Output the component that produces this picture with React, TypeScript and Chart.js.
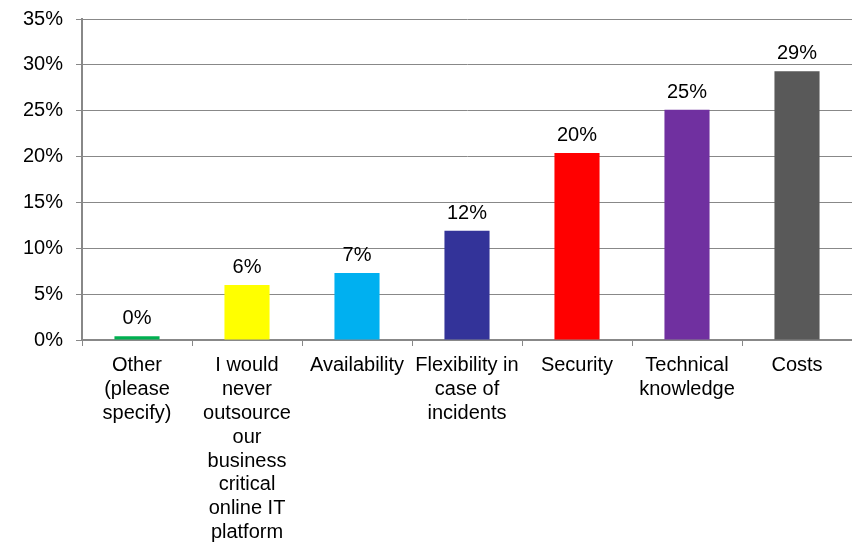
import React, { useEffect, useRef } from "react";
import { Chart, registerables } from "chart.js";

Chart.register(...registerables);

const categories: string[][] = [
  ["Other", "(please", "specify)"],
  ["I would", "never", "outsource", "our", "business", "critical", "online IT", "platform"],
  ["Availability"],
  ["Flexibility in", "case of", "incidents"],
  ["Security"],
  ["Technical", "knowledge"],
  ["Costs"],
];
const values: number[] = [0.4, 6.0, 7.3, 11.9, 20.4, 25.1, 29.3];
const barColors: string[] = ["#00B050", "#FFFF00", "#00B0F0", "#333399", "#FF0000", "#7030A0", "#595959"];
const yTicks: number[] = [0, 5, 10, 15, 20, 25, 30, 35];

const FONT = "'Liberation Sans', Arial, sans-serif";

const valueLabels = {
  id: "valueLabels",
  afterDatasetsDraw(chart: any) {
    const ctx = chart.ctx;
    const meta = chart.getDatasetMeta(0);
    ctx.save();
    ctx.font = `20px ${FONT}`;
    ctx.fillStyle = "#000000";
    ctx.textAlign = "center";
    ctx.textBaseline = "alphabetic";
    meta.data.forEach((el: any, i: number) => {
      ctx.fillText(`${Math.round(values[i])}%`, el.x, el.y - 12);
    });
    ctx.restore();
  },
};

export default function App() {
  const ref = useRef<HTMLCanvasElement>(null);
  useEffect(() => {
    document.body.style.margin = "0";
    const chart = new Chart(ref.current!, {
      type: "bar",
      data: {
        labels: categories,
        datasets: [
          {
            data: values,
            backgroundColor: barColors,
            borderWidth: 0,
            categoryPercentage: 1,
            barPercentage: 0.41,
          },
        ],
      },
      options: {
        animation: false,
        responsive: false,
        layout: { padding: { top: 19, right: 0, left: 0, bottom: 0 } },
        plugins: { legend: { display: false }, tooltip: { enabled: false } },
        scales: {
          x: {
            offset: true,
            grid: { display: true, drawOnChartArea: false, drawTicks: true, tickLength: 6, color: "#888888", lineWidth: 1, offset: true },
            border: { display: true, color: "#888888", width: 2 },
            ticks: {
              color: "#000000",
              font: { family: FONT, size: 20, lineHeight: "23.8px" },
              padding: 8,
              maxRotation: 0,
              autoSkip: false,
            },
            afterFit(scale: any) {
              scale.height = 203;
              scale.paddingLeft = 0;
              scale.paddingRight = 0;
            },
          },
          y: {
            min: 0,
            max: 35,
            afterBuildTicks(scale: any) {
              scale.ticks = yTicks.map((v) => ({ value: v }));
            },
            grid: { color: "#888888", lineWidth: 1, drawTicks: true, tickLength: 6 },
            border: { display: true, color: "#888888", width: 2 },
            ticks: {
              color: "#000000",
              font: { family: FONT, size: 20 },
              padding: 13,
              callback: (v: any) => `${v}%`,
            },
            afterFit(scale: any) {
              scale.width = 82;
              scale.paddingTop = 0;
              scale.paddingBottom = 0;
            },
          },
        },
      },
      plugins: [valueLabels],
    });
    return () => chart.destroy();
  }, []);
  return (
    <div style={{ position: "absolute", left: 0, top: 0, width: 852, height: 543 }}>
      <canvas ref={ref} width={852} height={543} />
    </div>
  );
}
